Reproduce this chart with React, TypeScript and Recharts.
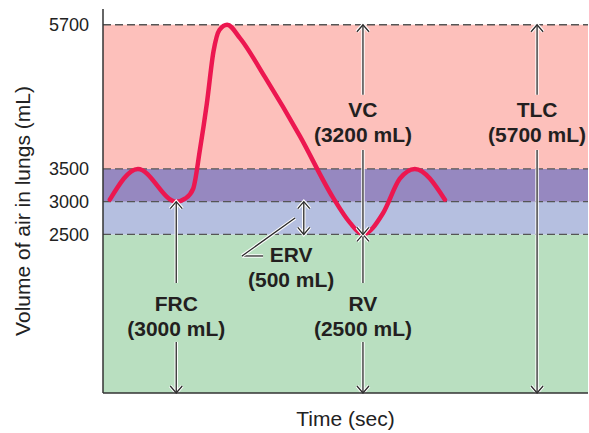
import { LineChart, Line, XAxis, YAxis, ReferenceArea, ReferenceLine, ReferenceDot } from 'recharts';

// breathing trace (time units are arbitrary, volume in mL)
const timePoints = [1.4, 7.2, 15.1, 17.0, 18.6, 20.0, 21.4, 22.8, 24.0, 25.6, 28.2, 33.4, 40.6, 47.4, 50.9, 53.6, 57.7, 61.2, 64.3, 70.5];
const volumeMl = [3030, 3500, 3000, 3050, 3200, 3800, 4490, 5300, 5620, 5700, 5500, 4900, 4000, 3065, 2680, 2500, 2820, 3350, 3500, 3030];

const volumeTicks = [2500, 3000, 3500, 5700];
const bandEdges = [80, 2500, 3000, 3500, 5700];
const yDomain = [80, 5940];
const xDomain = [0, 100];

// capacity annotations
const capacityNames = ['FRC', 'RV', 'VC', 'TLC'];
const capacityValues = ['(3000 mL)', '(2500 mL)', '(3200 mL)', '(5700 mL)'];
const capacityTimes = [15.1, 53.6, 53.6, 89.5];
const capacityLabelMl = [1330, 1330, 4290, 4290];
// [top, gap start, gap end, bottom]
const capacitySpans = [
  [3000, 1760, 860, 80],
  [2500, 1760, 860, 80],
  [5700, 4630, 3790, 2500],
  [5700, 4630, 3790, 80],
];

const ervTime = 41.4;
const ervSpan = [3000, 2500];
const ervLabel = ['ERV', '(500 mL)'];
const ervLabelAt = [38.8, 2080];
const ervLeader = [
  [33.0, 2171],
  [28.66, 2171],
  [39.6, 2750],
];

const data = timePoints.map((t, i) => ({ t, v: volumeMl[i] }));

const BAND_COLORS = ['#b9dfc0', '#b5bfe0', '#9688c0', '#fdc0bb'];
const DARK = '#2b2b2b';
const FONT = '"Liberation Sans", Arial, Helvetica, sans-serif';

const chevron = (x: number, y: number, up: boolean) => {
  const s = up ? 1 : -1;
  return `M${x - 6},${y + 7 * s} L${x},${y} L${x + 6},${y + 7 * s}`;
};

const Haloed = ({ paths }: { paths: string[] }) => (
  <g fill="none" strokeLinejoin="miter">
    {paths.map((d, i) => (
      <path key={`h${i}`} d={d} stroke="#fff" strokeWidth={3.4} />
    ))}
    {paths.map((d, i) => (
      <path key={`d${i}`} d={d} stroke={DARK} strokeWidth={1.3} />
    ))}
  </g>
);

const arrowShape = (headTop: boolean, headBottom: boolean) => (props: any) => {
  const { x1, y1, x2, y2 } = props;
  const top = Math.min(y1, y2);
  const bottom = Math.max(y1, y2);
  const paths = [`M${x1},${top} L${x2},${bottom}`];
  if (headTop) paths.push(chevron(x1, top, true));
  if (headBottom) paths.push(chevron(x1, bottom, false));
  return <Haloed paths={paths} />;
};

const leaderShape = (props: any) => {
  const { x1, y1, x2, y2 } = props;
  return <Haloed paths={[`M${x1},${y1} L${x2},${y2}`]} />;
};

const twoLineLabel = (lines: string[]) => (props: any) => {
  const { cx, cy } = props;
  return (
    <text textAnchor="middle" fontFamily={FONT} fontWeight="bold" fontSize={21} fill="#231f20">
      <tspan x={cx} y={cy}>{lines[0]}</tspan>
      <tspan x={cx} y={cy + 25}>{lines[1]}</tspan>
    </text>
  );
};

const YLabel = (props: any) => {
  const { viewBox } = props;
  const cx = 22;
  const cy = viewBox.y + viewBox.height / 2 + 10;
  return (
    <text
      x={cx}
      y={cy}
      transform={`rotate(-90 ${cx} ${cy})`}
      textAnchor="middle"
      dominantBaseline="central"
      fontFamily={FONT}
      fontSize={21}
      fill="#222"
    >
      Volume of air in lungs (mL)
    </text>
  );
};

export default function App() {
  return (
    <div style={{ width: 589, height: 433 }}>
      <style>{'body{margin:0}'}</style>
      <LineChart width={589} height={433} data={data} margin={{ top: 9, right: 1, bottom: 0, left: 0 }}>
        {bandEdges.slice(0, -1).map((lo, i) => (
          <ReferenceArea
            key={`band-${i}`}
            y1={lo}
            y2={bandEdges[i + 1]}
            fill={BAND_COLORS[i]}
            fillOpacity={1}
            stroke="none"
          />
        ))}
        {volumeTicks.map((v) => (
          <ReferenceLine key={`dash-${v}`} y={v} stroke="#555" strokeWidth={1.3} strokeDasharray="8 4" />
        ))}
        <XAxis
          type="number"
          dataKey="t"
          domain={xDomain}
          tick={false}
          tickLine={false}
          height={40}
          axisLine={{ stroke: '#333', strokeWidth: 1.5 }}
          label={{ value: 'Time (sec)', position: 'insideBottom', offset: 7, fontSize: 21, fill: '#222', fontFamily: FONT }}
        />
        <YAxis
          type="number"
          domain={yDomain}
          allowDataOverflow
          ticks={volumeTicks}
          width={103}
          tickLine={false}
          tickSize={0}
          tickMargin={14}
          axisLine={{ stroke: '#333', strokeWidth: 1.5 }}
          tick={{ fontSize: 18, fill: '#222', fontFamily: FONT }}
          label={<YLabel />}
        />
        <Line
          type="monotone"
          dataKey="v"
          stroke="#ec1750"
          strokeWidth={4.5}
          strokeLinecap="round"
          dot={false}
          isAnimationActive={false}
        />
        {capacityNames.map((name, i) => {
          const [top, gapA, gapB, bottom] = capacitySpans[i];
          const t = capacityTimes[i];
          return [
            <ReferenceLine
              key={`${name}-a`}
              segment={[{ x: t, y: top }, { x: t, y: gapA }]}
              shape={arrowShape(true, false)}
            />,
            <ReferenceLine
              key={`${name}-b`}
              segment={[{ x: t, y: gapB }, { x: t, y: bottom }]}
              shape={arrowShape(false, true)}
            />,
            <ReferenceDot
              key={`${name}-lbl`}
              x={t}
              y={capacityLabelMl[i]}
              r={0}
              shape={twoLineLabel([name, capacityValues[i]])}
            />,
          ];
        })}
        <ReferenceLine
          segment={[{ x: ervTime, y: ervSpan[0] }, { x: ervTime, y: ervSpan[1] }]}
          shape={arrowShape(true, true)}
        />
        <ReferenceLine
          segment={[{ x: ervLeader[0][0], y: ervLeader[0][1] }, { x: ervLeader[1][0], y: ervLeader[1][1] }]}
          shape={leaderShape}
        />
        <ReferenceLine
          segment={[{ x: ervLeader[1][0], y: ervLeader[1][1] }, { x: ervLeader[2][0], y: ervLeader[2][1] }]}
          shape={leaderShape}
        />
        <ReferenceDot x={ervLabelAt[0]} y={ervLabelAt[1]} r={0} shape={twoLineLabel(ervLabel)} />
      </LineChart>
    </div>
  );
}
